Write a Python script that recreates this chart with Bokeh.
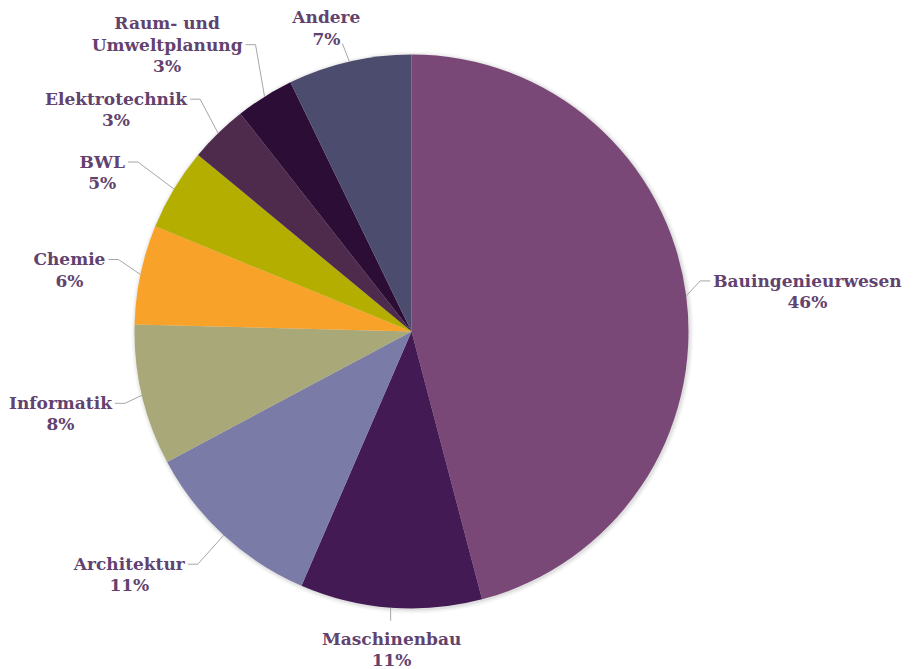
import math
from bokeh.plotting import figure
from bokeh.models import Range1d
from bokeh.core.properties import value
from bokeh.embed import file_html
from bokeh.resources import INLINE

# ---- data ----
categories = ["Bauingenieurwesen", "Maschinenbau", "Architektur", "Informatik",
              "Chemie", "BWL", "Elektrotechnik", "Raum- und\nUmweltplanung", "Andere"]
shares = [45.9, 10.6, 10.7, 8.2, 5.8, 4.8, 3.4, 3.4, 7.2]
colors = ["#7A4877", "#431A53", "#7A7BA7", "#A8A878", "#F9A22A",
          "#B3AE00", "#4E2A4D", "#2C0D36", "#4C4C6E"]

# ---- layout / style ----
W, H = 910, 669
CX, CY, R = 411, H - 331, 277
# leader elbow offset from the slice edge (pixels, x right / y down) and label side
leader_off = [(14, -15), (0, 13), (-26, 29), (-17, 8), (-22, -15),
              (-36, -27), (-18, -34), (-9, -52), (-7, -18)]
label_side = ["right", "below", "left", "left", "left", "left", "left", "left", "above"]
TICK = 10
FONT = "DejaVu Serif"
FS = 17
LH = 1.06
SPACING = FS * 1.164 * LH
TXT = "#62426E"
LEADER = "#A6A6A6"

p = figure(width=W, height=H, output_backend="svg", toolbar_location=None,
           x_range=Range1d(0, W), y_range=Range1d(0, H), min_border=0)
p.xaxis.visible = False
p.yaxis.visible = False
p.grid.visible = False
p.outline_line_color = None
p.background_fill_color = "white"

# soft shadow
for i, a in enumerate([0.05, 0.04, 0.03]):
    p.circle(x=CX + 1, y=CY - 1, radius=R + 1 + i * 1.5, fill_color="#000000",
             fill_alpha=a, line_color=None)

total = sum(shares)
cum = 0.0
starts, ends, mids = [], [], []
for v in shares:
    a0 = math.pi / 2 - 2 * math.pi * cum / total
    cum += v
    a1 = math.pi / 2 - 2 * math.pi * cum / total
    starts.append(a0)
    ends.append(a1)
    mids.append((a0 + a1) / 2)

p.wedge(x=CX, y=CY, radius=R, start_angle=starts, end_angle=ends,
        direction="clock", fill_color=colors, line_color=None)

for name, v, m, (dx, dy), side in zip(categories, shares, mids, leader_off, label_side):
    pct = f"{round(v / total * 100)}%"
    label = f"{name}\n{pct}"
    nlines = label.count("\n") + 1
    ex, ey = CX + R * math.cos(m), CY + R * math.sin(m)
    px, py = ex + dx, ey - dy
    common = dict(text_align="center", text_font=value(FONT), text_font_style="bold",
                  text_font_size=f"{FS}px", text_color=TXT, text_line_height=LH)
    if side == "below":
        p.line([ex, px], [ey, py], line_color=LEADER, line_width=1)
        p.text(x=[px + 1], y=[py - 18 - SPACING / 2], text=[label], anchor="center", **common)
    elif side == "above":
        p.line([ex, px], [ey, py], line_color=LEADER, line_width=1)
        p.text(x=[px - 16], y=[py + 5 + SPACING / 2], text=[label], anchor="center", **common)
    else:
        s = 1 if side == "right" else -1
        hx = px + s * TICK
        p.line([ex, px, hx], [ey, py, py], line_color=LEADER, line_width=1)
        anchor = "center_left" if s > 0 else "center_right"
        # the line before the percentage sits level with the leader
        yc = py - SPACING * (1 - (nlines - 1) / 2.0) + SPACING * 0  # centre of box
        yc = py - SPACING * ((nlines - 1) / 2.0 - (nlines - 2))
        p.text(x=[hx + s * 3], y=[yc], text=[label], anchor=anchor, **common)

open("out.html", "w").write(file_html(p, INLINE))
